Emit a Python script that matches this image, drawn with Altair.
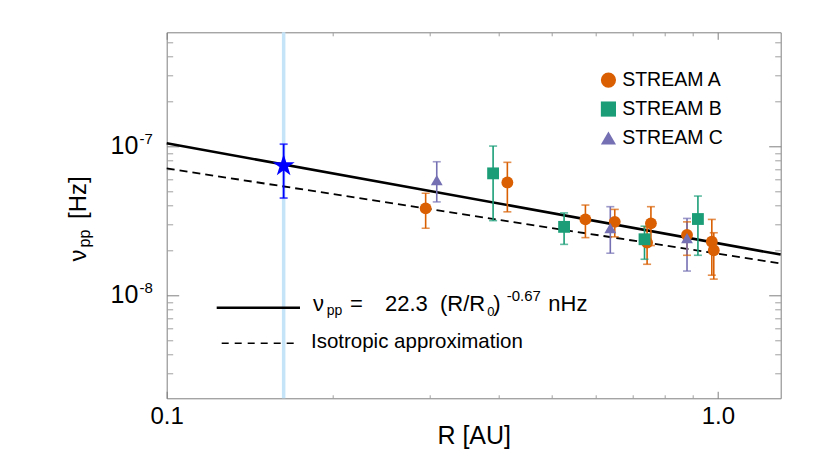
import altair as alt
import pandas as pd

FONT = "Liberation Sans"

# ---------------- data ----------------
stream_names = ["STREAM A", "STREAM B", "STREAM C"]
stream_colors = ["#d95f02", "#1b9e77", "#7570b3"]
stream_shapes = ["circle", "square", "triangle-up"]

# STREAM A  (R [AU], nu [Hz], lower, upper)
a_r = [0.295, 0.415, 0.575, 0.650, 0.744, 0.756, 0.879, 0.975, 0.983]
a_nu = [3.82e-8, 5.70e-8, 3.22e-8, 3.10e-8, 2.25e-8, 3.03e-8, 2.53e-8, 2.28e-8, 2.00e-8]
a_lo = [2.81e-8, 3.62e-8, 2.43e-8, 2.46e-8, 1.61e-8, 2.15e-8, 1.85e-8, 1.36e-8, 1.28e-8]
a_hi = [4.82e-8, 7.78e-8, 4.02e-8, 3.76e-8, 2.87e-8, 3.92e-8, 3.10e-8, 3.22e-8, 2.62e-8]

# STREAM B
b_r = [0.391, 0.526, 0.736, 0.920]
b_nu = [6.56e-8, 2.87e-8, 2.37e-8, 3.24e-8]
b_lo = [3.16e-8, 2.19e-8, 1.74e-8, 1.85e-8]
b_hi = [1.00e-7, 3.56e-8, 2.90e-8, 4.62e-8]

# STREAM C
c_r = [0.309, 0.638, 0.879]
c_nu = [5.91e-8, 2.81e-8, 2.41e-8]
c_lo = [4.22e-8, 1.91e-8, 1.45e-8]
c_hi = [7.85e-8, 3.92e-8, 3.27e-8]

# blue star + light-blue vertical marker
star_r = [0.163]
star_nu = [7.38e-8]
star_lo = [4.48e-8]
star_hi = [1.03e-7]

# fit lines (end points)
fit_r = [0.1, 1.3]
fit_nu = [1.043e-7, 1.870e-8]
iso_nu = [7.09e-8, 1.63e-8]

x_domain = [0.1, 1.3]
y_domain = [2.03e-9, 5.8e-7]
x_label_values = [0.1, 1.0]
y_label_values = [1e-7, 1e-8]
y_label_base = ["10", "10"]
y_label_exp = ["-7", "-8"]

# ---------------- tables ----------------
rows = []
for name, rr, nn, ll, hh in [
    ("STREAM A", a_r, a_nu, a_lo, a_hi),
    ("STREAM B", b_r, b_nu, b_lo, b_hi),
    ("STREAM C", c_r, c_nu, c_lo, c_hi),
]:
    for r, n, l, h in zip(rr, nn, ll, hh):
        rows.append({"stream": name, "r": r, "nu": n, "lo": l, "hi": h})
points = pd.DataFrame(rows)
star_df = pd.DataFrame({"r": star_r, "nu": star_nu, "lo": star_lo, "hi": star_hi})
fit_df = pd.DataFrame({"r": fit_r, "nu": fit_nu, "iso": iso_nu})
ylab_df = pd.DataFrame({"v": y_label_values, "base": y_label_base, "exp": y_label_exp})
one = pd.DataFrame({"a": [0]})

W, H = 614, 366
X0, Y0 = 166.7, 32.3  # page position of plot origin

xs = alt.Scale(type="log", domain=x_domain, nice=False)
ys = alt.Scale(type="log", domain=y_domain, nice=False)
cs = alt.Scale(domain=stream_names, range=stream_colors)
shs = alt.Scale(domain=stream_names, range=stream_shapes)

major_test = "abs(log(datum.value)/LN10 - round(log(datum.value)/LN10)) < 0.001"


def tick_axis(orient, offset, major, minor):
    return alt.Axis(
        orient=orient, offset=offset, labels=False, title=None, domain=False,
        grid=False, ticks=True,
        tickSize={"condition": {"test": major_test, "value": major}, "value": minor},
        tickColor={"condition": {"test": major_test, "value": "#808080"}, "value": "#a0a0a0"},
        tickWidth=1,
    )


STAR = ("M0,-1L0.2245,-0.309L0.951,-0.309L0.3633,0.118L0.5878,0.809L0,0.382"
        "L-0.5878,0.809L-0.3633,0.118L-0.951,-0.309L-0.2245,-0.309Z")

blue = alt.Chart(star_df).mark_rule(color="#c6e4f8", strokeWidth=3.5).encode(
    x=alt.X("r:Q", scale=xs, axis=tick_axis("bottom", -H, 7, 3.5))
)

solid = alt.Chart(fit_df).mark_line(color="black", strokeWidth=2.6).encode(
    x=alt.X("r:Q", scale=xs, axis=alt.Axis(
        orient="bottom", values=x_label_values, format=".1f", labelFontSize=24,
        labelFont=FONT, labelColor="black", labelPadding=6, labelFlush=False,
        ticks=False, tickSize=0, domain=False, grid=False, title="R [AU]",
        titleFont=FONT, titleFontSize=25, titleFontWeight="normal",
        titleColor="black", titleY=45, titleBaseline="alphabetic")),
    y=alt.Y("nu:Q", scale=ys, axis=tick_axis("right", -W, 12, 6)),
)

dashed = alt.Chart(fit_df).mark_line(color="black", strokeWidth=1.8, strokeDash=[8, 5]).encode(
    x=alt.X("r:Q", scale=xs, axis=tick_axis("top", -H, 7, 3.5)),
    y=alt.Y("iso:Q", scale=ys, axis=tick_axis("left", -W, 12, 6)),
)

X = alt.X("r:Q", scale=xs, axis=None)
col_nolegend = alt.Color("stream:N", scale=cs, legend=None)

err = alt.Chart(points).mark_rule(strokeWidth=1.6).encode(
    x=X, y=alt.Y("lo:Q", scale=ys, axis=None), y2="hi:Q", color=col_nolegend)
cap_lo = alt.Chart(points).mark_tick(orient="horizontal", size=8, thickness=1.6).encode(
    x=X, y=alt.Y("lo:Q", scale=ys, axis=None), color=col_nolegend)
cap_hi = alt.Chart(points).mark_tick(orient="horizontal", size=8, thickness=1.6).encode(
    x=X, y=alt.Y("hi:Q", scale=ys, axis=None), color=col_nolegend)

leg = dict(orient="none", legendX=432, legendY=38, title=None, labelFontSize=19.5,
           labelFont=FONT, labelColor="black", symbolSize=230, symbolStrokeWidth=0,
           rowPadding=8, labelOffset=4, padding=0)

pts = alt.Chart(points).mark_point(filled=True, size=140, opacity=1).encode(
    x=X, y=alt.Y("nu:Q", scale=ys, axis=None),
    color=alt.Color("stream:N", scale=cs, legend=alt.Legend(**leg)),
    shape=alt.Shape("stream:N", scale=shs, legend=alt.Legend(**leg)),
)

star_err = alt.Chart(star_df).mark_rule(strokeWidth=1.8, color="#0000ff").encode(
    x=X, y=alt.Y("lo:Q", scale=ys, axis=None), y2="hi:Q")
star_cap_lo = alt.Chart(star_df).mark_tick(orient="horizontal", size=8, thickness=1.8, color="#0000ff").encode(
    x=X, y=alt.Y("lo:Q", scale=ys, axis=None))
star_cap_hi = alt.Chart(star_df).mark_tick(orient="horizontal", size=8, thickness=1.8, color="#0000ff").encode(
    x=X, y=alt.Y("hi:Q", scale=ys, axis=None))
star = alt.Chart(star_df).mark_point(shape=STAR, filled=True, size=540, color="#0000ff", opacity=1).encode(
    x=X, y=alt.Y("nu:Q", scale=ys, axis=None))

ylab10 = alt.Chart(ylab_df).mark_text(align="right", baseline="alphabetic", fontSize=25, font=FONT,
                                       dy=7.5, color="black").encode(
    x=alt.value(138.3 - X0), y=alt.Y("v:Q", scale=ys, axis=None), text="base:N")
ylabexp = alt.Chart(ylab_df).mark_text(align="left", baseline="alphabetic", fontSize=15, font=FONT,
                                        dy=-2, color="black").encode(
    x=alt.value(139.5 - X0), y=alt.Y("v:Q", scale=ys, axis=None), text="exp:N")


def note(text, px, py, size, angle=0):
    return alt.Chart(one).mark_text(align="left", baseline="alphabetic", fontSize=size, font=FONT,
                                    color="black", angle=angle).encode(
        x=alt.value(px - X0), y=alt.value(py - Y0), text=alt.value(text))


notes = [
    # y title
    note("\u03bd", 85.7, 261.5, 24, 270),
    note("pp", 90.0, 247.5, 16, 270),
    note("[Hz]", 85.7, 219.0, 24, 270),
    # equation legend
    note("\u03bd", 313.0, 310.7, 22),
    note("pp", 326.7, 315.5, 14),
    note("=", 350.0, 310.7, 22),
    note("22.3", 385.0, 310.7, 22),
    note("(R/R", 440.0, 310.7, 22),
    note("0", 487.3, 316.5, 13),
    note(")", 493.3, 310.7, 22),
    note("-0.67", 506.7, 301.5, 15),
    note("nHz", 548.3, 310.7, 22),
    note("Isotropic approximation", 311.0, 347.7, 20.5),
]

leg_solid = alt.Chart(one).mark_rule(color="black", strokeWidth=2.6).encode(
    x=alt.value(216.7 - X0), x2=alt.value(300 - X0), y=alt.value(307.7 - Y0))
leg_dash = alt.Chart(one).mark_rule(color="black", strokeWidth=1.5, strokeDash=[7, 6]).encode(
    x=alt.value(221.7 - X0), x2=alt.value(295 - X0), y=alt.value(343.3 - Y0))

chart = alt.layer(
    blue, solid, dashed, err, cap_lo, cap_hi, star_err, star_cap_lo, star_cap_hi,
    pts, star, ylab10, ylabexp, leg_solid, leg_dash, *notes
).resolve_axis(x="independent", y="independent").resolve_legend(
    color="independent", shape="independent"
).properties(
    width=W, height=H,
    autosize=alt.AutoSizeParams(type="none"),
    padding={"left": X0 - 8, "top": Y0 - 8, "right": 30, "bottom": 55},
).configure(font=FONT).configure_view(stroke="#808080", strokeWidth=1)

chart.save("out.html", embed_options={"renderer": "svg", "actions": False})
